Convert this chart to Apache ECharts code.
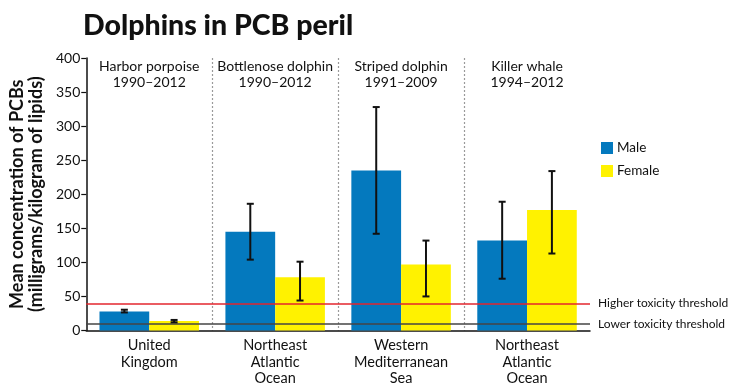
<!DOCTYPE html>
<html>
<head>
<meta charset="utf-8">
<script src="https://cdn.jsdelivr.net/npm/echarts@6/dist/echarts.min.js"></script>
<style>html,body{margin:0;padding:0;background:#fff}#c{width:730px;height:387px}</style>
</head>
<body>
<div id="c"></div>
<script>
var regions = ['United\nKingdom', 'Northeast\nAtlantic\nOcean', 'Western\nMediterranean\nSea', 'Northeast\nAtlantic\nOcean'];
var species = ['Harbor porpoise', 'Bottlenose dolphin', 'Striped dolphin', 'Killer whale'];
var years = ['1990–2012', '1990–2012', '1991–2009', '1994–2012'];
var male = [28, 145, 235, 132];
var female = [14, 78, 97, 177];
var maleLow = [26.5, 104, 142, 76];
var maleHigh = [30.5, 186, 328, 189];
var femaleLow = [12, 44, 50, 113];
var femaleHigh = [15.5, 101, 132, 234];
var thresholds = [40, 10];
var thresholdNames = ['Higher toxicity threshold', 'Lower toxicity threshold'];
var yTicks = {min: 0, max: 400, interval: 50};

var FONT = 'Lato, "Noto Sans", sans-serif';
var CAT_GAP = 0.21;

function errorSeries(name, low, high, side) {
  return {
    type: 'custom',
    name: name + ' error',
    xAxisIndex: 0,
    yAxisIndex: 0,
    silent: true,
    z: 5,
    data: low.map(function (l, i) { return [i, l, high[i]]; }),
    renderItem: function (params, api) {
      var band = api.size([1, 0])[0];
      var bw = band * (1 - CAT_GAP) / 2;
      var lo = api.coord([api.value(0), api.value(1)]);
      var hi = api.coord([api.value(0), api.value(2)]);
      var x = lo[0] + side * bw / 2;
      var cap = 3.5;
      var st = {stroke: '#111', lineWidth: 2};
      return {
        type: 'group',
        children: [
          {type: 'line', shape: {x1: x, y1: lo[1], x2: x, y2: hi[1]}, style: st},
          {type: 'line', shape: {x1: x - cap, y1: lo[1], x2: x + cap, y2: lo[1]}, style: st},
          {type: 'line', shape: {x1: x - cap, y1: hi[1], x2: x + cap, y2: hi[1]}, style: st}
        ]
      };
    }
  };
}

var chart = echarts.init(document.getElementById('c'), null, {renderer: 'canvas'});
chart.setOption({
  animation: false,
  textStyle: {fontFamily: FONT},
  title: {
    text: 'Dolphins in PCB peril',
    left: 83, top: 11, padding: 0,
    textStyle: {fontFamily: FONT, fontSize: 28.5, fontWeight: 900, color: '#111'}
  },
  legend: {
    orient: 'vertical',
    left: 596, top: 136,
    itemWidth: 12, itemHeight: 12, itemGap: 9,
    icon: 'rect',
    data: ['Male', 'Female'],
    textStyle: {fontFamily: FONT, fontSize: 13.5, color: '#111', padding: [0, 0, 0, -1]}
  },
  grid: {left: 83, right: 140, top: 58, bottom: 56, containLabel: false},
  xAxis: [{
    type: 'category',
    data: regions,
    position: 'bottom',
    axisLine: {show: true, lineStyle: {color: '#111', width: 1.5}},
    axisTick: {show: false},
    axisLabel: {interval: 0, fontFamily: FONT, fontSize: 14.5, lineHeight: 16.5, color: '#111', margin: 7},
    splitLine: {show: true, interval: 0, showMinLine: false, showMaxLine: false, lineStyle: {type: [2, 2], color: '#9a9a9a', width: 1.2}}
  }, {
    type: 'category',
    data: species,
    position: 'top',
    axisLine: {show: false},
    axisTick: {show: false},
    splitLine: {show: false},
    axisLabel: {
      interval: 0, inside: true, margin: 0,
      fontFamily: FONT, fontSize: 14, lineHeight: 16, color: '#111',
      formatter: function (v, i) { return v + '\n' + years[i]; }
    }
  }],
  yAxis: {
    type: 'value',
    min: yTicks.min, max: yTicks.max, interval: yTicks.interval,
    name: 'Mean concentration of PCBs\n(milligrams/kilogram of lipids)',
    nameLocation: 'middle',
    nameGap: 36,
    nameTextStyle: {fontFamily: FONT, fontSize: 18, fontWeight: 700, lineHeight: 18.5, color: '#111'},
    axisLine: {show: true, lineStyle: {color: '#111', width: 1.5}},
    axisTick: {show: true, length: 5, lineStyle: {color: '#111', width: 1.2}},
    axisLabel: {fontFamily: FONT, fontSize: 14, color: '#111', margin: 6},
    splitLine: {show: false}
  },
  series: [{
    type: 'bar',
    name: 'Male',
    data: male,
    barGap: 0,
    barCategoryGap: (CAT_GAP * 100) + '%',
    itemStyle: {color: '#0479be'},
    markLine: {
      silent: true,
      symbol: 'none',
      data: [
        {yAxis: thresholds[0], name: thresholdNames[0], lineStyle: {color: '#e3262e', width: 1.5, type: 'solid'}},
        {yAxis: thresholds[1], name: thresholdNames[1], lineStyle: {color: '#444', width: 1.5, type: 'solid'}}
      ],
      label: {
        show: true, position: 'end', distance: 8,
        formatter: '{b}',
        fontFamily: FONT, fontSize: 12, color: '#111'
      },
      z: 4
    }
  }, {
    type: 'bar',
    name: 'Female',
    data: female,
    barGap: 0,
    barCategoryGap: (CAT_GAP * 100) + '%',
    itemStyle: {color: '#fff200'}
  },
  errorSeries('Male', maleLow, maleHigh, -1),
  errorSeries('Female', femaleLow, femaleHigh, 1)
  ]
});
</script>
</body>
</html>
